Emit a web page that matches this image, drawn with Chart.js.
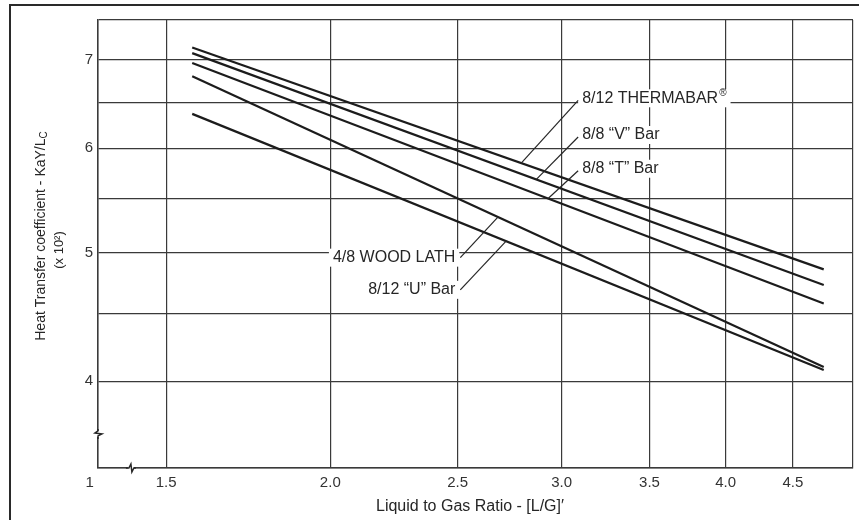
<!DOCTYPE html>
<html>
<head>
<meta charset="utf-8">
<script src="https://cdn.jsdelivr.net/npm/chart.js@4/dist/chart.umd.min.js"></script>
<style>
  html, body { margin: 0; padding: 0; background: #ffffff; }
  #wrap { width: 861px; height: 520px; position: relative; }
</style>
</head>
<body>
<div id="wrap"><canvas id="c" width="861" height="520"></canvas></div>
<script>
// ---- data (log-log plot) ----
const lgRatio = [1.57, 4.75];            // x: Liquid to Gas ratio at line start / end
const thermabar = [7.15, 4.86];          // 8/12 THERMABAR®
const vBar = [7.08, 4.73];               // 8/8 "V" Bar
const tBar = [6.96, 4.58];               // 8/8 "T" Bar
const woodLath = [6.80, 4.10];           // 4/8 WOOD LATH
const uBar = [6.37, 4.08];               // 8/12 "U" Bar

const seriesNames = ['8/12 THERMABAR®', '8/8 \u201CV\u201D Bar', '8/8 \u201CT\u201D Bar', '4/8 WOOD LATH', '8/12 \u201CU\u201D Bar'];
const seriesValues = [thermabar, vBar, tBar, woodLath, uBar];

const xMin = 1.331, xMax = 5.0;
const yMin = 3.44, yMax = 7.5;
const xTickValues = [1.331, 1.5, 2.0, 2.5, 3.0, 3.5, 4.0, 4.5, 5.0];
const xTickLabels = ['1    ', '1.5', '2.0', '2.5', '3.0', '3.5', '4.0', '4.5', ''];
const yTickValues = [3.44, 4, 4.5, 5, 5.5, 6, 6.5, 7, 7.5];
const yTickLabels = ['', '4', '', '5', '', '6', '', '7', ''];

// callout labels (data coords) and the x where each leader touches its line
const labelX = [3.11, 3.11, 3.11, 2.49, 2.49];
const labelY = [6.545, 6.14, 5.79, 4.96, 4.69];
const labelAlign = ['left', 'left', 'left', 'right', 'right'];
const leaderX = [2.795, 2.87, 2.93, 2.683, 2.722];

const xBreak = 1.41, yBreak = 3.65;
const xTitle = 'Liquid to Gas Ratio - [L/G]\u2032';
const yTitleMain = 'Heat Transfer coefficient - KaY/L';
const yTitleSub = 'C';
const yTitle2 = '(x 10\u00B2)';

const FONT = '"Liberation Sans", Arial, Helvetica, sans-serif';
const INK = '#262626';
const GRID = '#3a3a3a';

function lineValueAt(vals, xv) {
  const t = (Math.log10(xv) - Math.log10(lgRatio[0])) / (Math.log10(lgRatio[1]) - Math.log10(lgRatio[0]));
  return Math.pow(10, Math.log10(vals[0]) + t * (Math.log10(vals[1]) - Math.log10(vals[0])));
}

const datasets = seriesValues.map((vals, i) => ({
  label: seriesNames[i],
  data: lgRatio.map((xv, j) => ({ x: xv, y: vals[j] })),
  borderColor: '#1c1c1c',
  borderWidth: 2.2,
  pointRadius: 0,
  fill: false,
  tension: 0
}));

const decorPlugin = {
  id: 'decor',
  beforeDraw(chart) {
    const ctx = chart.ctx;
    ctx.save();
    ctx.fillStyle = '#ffffff';
    ctx.fillRect(0, 0, chart.width, chart.height);
    ctx.restore();
  },
  afterDatasetsDraw(chart) {
    const { ctx, scales: { x, y } } = chart;
    ctx.save();
    // callout labels
    ctx.textBaseline = 'middle';
    seriesNames.forEach((txt, i) => {
      const px = x.getPixelForValue(labelX[i]);
      const py = y.getPixelForValue(labelY[i]);
      const hasR = txt.endsWith('®');
      const main = hasR ? txt.slice(0, -1) : txt;
      ctx.font = '16px ' + FONT;
      const wMain = ctx.measureText(main).width;
      ctx.font = '10px ' + FONT;
      const wR = hasR ? ctx.measureText('®').width + 1 : 0;
      const w = wMain + wR;
      const left = labelAlign[i] === 'left' ? px : px - w;
      ctx.fillStyle = '#ffffff';
      ctx.fillRect(left - 4, py - 9, w + 8, 18);
      ctx.fillStyle = INK;
      ctx.font = '16px ' + FONT;
      ctx.textAlign = 'left';
      ctx.fillText(main, left, py);
      if (hasR) {
        ctx.font = '10px ' + FONT;
        ctx.fillText('®', left + wMain + 1, py - 5);
      }
      // leader
      const tx = x.getPixelForValue(leaderX[i]);
      const ty = y.getPixelForValue(lineValueAt(seriesValues[i], leaderX[i]));
      const sx = labelAlign[i] === 'left' ? left - 4 : left + w + 5;
      const sy = labelAlign[i] === 'left' ? py + 2 : py;
      ctx.strokeStyle = INK;
      ctx.lineWidth = 1.2;
      ctx.beginPath();
      ctx.moveTo(sx, sy);
      ctx.lineTo(tx, ty);
      ctx.stroke();
    });

    // axis break marks
    const bx = x.getPixelForValue(xBreak), by = y.bottom;
    const lx = x.left, ly = y.getPixelForValue(yBreak);
    ctx.fillStyle = '#ffffff';
    ctx.fillRect(bx - 3, by - 2, 6, 4);
    ctx.fillRect(lx - 2, ly - 3, 4, 6);
    ctx.strokeStyle = INK;
    ctx.lineWidth = 1.5;
    ctx.beginPath();
    ctx.moveTo(bx - 5, by); ctx.lineTo(bx - 2, by);
    ctx.lineTo(bx, by - 4); ctx.lineTo(bx + 1, by + 4); ctx.lineTo(bx + 3, by);
    ctx.lineTo(bx + 5, by);
    ctx.moveTo(lx, ly + 5); ctx.lineTo(lx, ly + 2);
    ctx.lineTo(lx + 4, ly); ctx.lineTo(lx - 3, ly - 1); ctx.lineTo(lx, ly - 3);
    ctx.lineTo(lx, ly - 5);
    ctx.stroke();

    // axis titles
    ctx.fillStyle = INK;
    ctx.textBaseline = 'middle';
    ctx.font = '16px ' + FONT;
    ctx.textAlign = 'center';
    ctx.fillText(xTitle, 470, 507);

    ctx.save();
    ctx.translate(41, 236);
    ctx.rotate(-Math.PI / 2);
    ctx.font = '14px ' + FONT;
    const wm = ctx.measureText(yTitleMain).width;
    ctx.font = '10px ' + FONT;
    const ws = ctx.measureText(yTitleSub).width;
    const start = -(wm + ws) / 2;
    ctx.textAlign = 'left';
    ctx.font = '14px ' + FONT;
    ctx.fillText(yTitleMain, start, 0);
    ctx.font = '10px ' + FONT;
    ctx.fillText(yTitleSub, start + wm, 3);
    ctx.restore();

    ctx.save();
    ctx.translate(59, 250);
    ctx.rotate(-Math.PI / 2);
    ctx.font = '13px ' + FONT;
    ctx.textAlign = 'center';
    ctx.fillText(yTitle2, 0, 0);
    ctx.restore();

    // outer frame
    ctx.strokeStyle = '#2a2a2a';
    ctx.lineWidth = 2;
    ctx.beginPath();
    ctx.moveTo(10, 522); ctx.lineTo(10, 5); ctx.lineTo(859, 5);
    ctx.stroke();
    ctx.restore();
  }
};

new Chart(document.getElementById('c'), {
  type: 'line',
  data: { datasets },
  options: {
    responsive: false,
    animation: false,
    events: [],
    layout: { padding: { top: 20, right: 8, left: 0, bottom: 0 } },
    plugins: { legend: { display: false }, tooltip: { enabled: false }, title: { display: false } },
    scales: {
      x: {
        type: 'logarithmic',
        bounds: 'data',
        min: xMin, max: xMax,
        afterBuildTicks: (s) => { s.ticks = xTickValues.map(v => ({ value: v })); },
        afterFit: (s) => { s.height = 52; },
        ticks: {
          autoSkip: false, maxRotation: 0, minRotation: 0, padding: 6,
          color: '#333', font: { family: FONT, size: 15 },
          callback: (v, i) => xTickLabels[i]
        },
        grid: { color: GRID, lineWidth: 1.2, drawTicks: false },
        border: { color: GRID, width: 1.5 }
      },
      y: {
        type: 'logarithmic',
        bounds: 'data',
        min: yMin, max: yMax,
        afterBuildTicks: (s) => { s.ticks = yTickValues.map(v => ({ value: v })); },
        afterFit: (s) => { s.width = 98; },
        ticks: {
          autoSkip: false, padding: 5,
          color: '#333', font: { family: FONT, size: 15 },
          callback: (v, i) => yTickLabels[i]
        },
        grid: { color: GRID, lineWidth: 1.2, drawTicks: false },
        border: { color: GRID, width: 1.5 }
      }
    }
  },
  plugins: [decorPlugin]
});
</script>
</body>
</html>
